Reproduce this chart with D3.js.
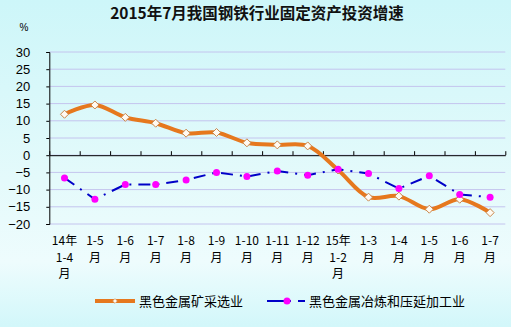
<!DOCTYPE html>
<html><head><meta charset="utf-8">
<script src="https://cdn.jsdelivr.net/npm/d3@7"></script>
<style>html,body{margin:0;padding:0;overflow:hidden;}</style>
</head><body>
<svg id="c" width="511" height="327"></svg>
<script>
const title = "2015年7月我国钢铁行业固定资产投资增速";
const categories = ["14年 1-4 月","1-5 月","1-6 月","1-7 月","1-8 月","1-9 月","1-10 月","1-11 月","1-12 月","15年 1-2 月","1-3 月","1-4 月","1-5 月","1-6 月","1-7 月"];
const seriesNames = ["黑色金属矿采选业","黑色金属冶炼和压延加工业"];
const miningValues = [11.9, 14.6, 11.0, 9.3, 6.4, 6.6, 3.6, 3.0, 2.7, -4.3, -12.2, -11.9, -15.7, -12.8, -16.7];
const smeltingValues = [-6.6, -12.8, -8.5, -8.5, -7.2, -5.0, -6.2, -4.6, -5.8, -4.1, -5.3, -9.7, -6.0, -11.4, -12.2];
const yTicks = [-20,-15,-10,-5,0,5,10,15,20,25,30];

const svg = d3.select("#c");
const defs = svg.append("defs");
const bg = defs.append("linearGradient").attr("id","bg").attr("x1","0").attr("y1","0").attr("x2","0").attr("y2","1");
bg.append("stop").attr("offset","0").attr("stop-color","#cdf6f9");
bg.append("stop").attr("offset","0.55").attr("stop-color","#e4fafb");
bg.append("stop").attr("offset","0.8").attr("stop-color","#eefcfd");
bg.append("stop").attr("offset","1").attr("stop-color","#d2f7fa");
svg.append("rect").attr("width",511).attr("height",327).attr("fill","url(#bg)");

const pLeft = 49.3, pRight = 505.3, pTop = 52, pBottom = 224;
const idx = d3.range(categories.length);
const x = d3.scaleBand().domain(idx).range([pLeft,pRight]).padding(0);
const y = d3.scaleLinear().domain([-20,30]).range([pBottom,pTop]);
const cx = i => x(i) + x.bandwidth()/2;

// gridlines
svg.append("g").selectAll("line").data(yTicks).join("line")
  .attr("x1",pLeft).attr("x2",pRight).attr("y1",d=>y(d)).attr("y2",d=>y(d))
  .attr("stroke","#c4c4ee").attr("stroke-width",1);

// y axis
const yAxis = svg.append("g").attr("transform",`translate(${pLeft},0)`)
  .call(d3.axisLeft(y).tickValues(yTicks).tickSize(3).tickPadding(16).tickFormat(d3.format("d")));
yAxis.select(".domain").attr("stroke","#000");
yAxis.selectAll("text").attr("font-family","'Liberation Sans',Arial,sans-serif").attr("font-size",13).attr("fill","#000");

// x axis at zero
const xb = d3.scaleLinear().domain([0,categories.length]).range([pLeft,pRight]);
const xAxis = svg.append("g").attr("transform",`translate(0,${y(0)})`)
  .call(d3.axisTop(xb).tickValues(d3.range(0,categories.length+1)).tickSize(4).tickSizeOuter(0).tickFormat(""));
xAxis.select(".domain").attr("stroke","#000");
xAxis.selectAll("line").attr("stroke","#000");

// category labels
const lab = svg.append("g").attr("font-family","'Noto Sans CJK SC',sans-serif").attr("font-size",12).attr("fill","#000").attr("text-anchor","middle");
categories.forEach((c,i) => {
  const t = lab.append("text").attr("x",cx(i)).attr("y",245);
  c.split(" ").forEach((s,k) => t.append("tspan").attr("x",cx(i)).attr("dy", k===0?0:16.5).text(s));
});

// title
svg.append("text").attr("x",257).attr("y",19).attr("text-anchor","middle")
  .attr("font-family","'Noto Sans CJK SC',sans-serif").attr("font-weight","bold").attr("font-size",15.5)
  .attr("fill","#111").text(title);
svg.append("text").attr("x",24).attr("y",31).attr("text-anchor","middle")
  .attr("font-family","'Liberation Sans',sans-serif").attr("font-size",10).text("%");

const orange = "#e6781e", blue = "#0000c8", magenta = "#ff00ff";
const diamond = "M0,-4L4,0L0,4L-4,0Z";

// mining line (smoothed)
const lineSmooth = d3.line().x((d,i)=>cx(i)).y(d=>y(d)).curve(d3.curveCatmullRom.alpha(0.5));
svg.append("path").datum(miningValues).attr("d",lineSmooth).attr("fill","none")
  .attr("stroke",orange).attr("stroke-width",4).attr("stroke-linejoin","round");
svg.append("g").selectAll("path").data(miningValues).join("path")
  .attr("d",diamond).attr("transform",(d,i)=>`translate(${cx(i)},${y(d)})`)
  .attr("fill","#fffaf2").attr("stroke","#c9864a").attr("stroke-width",1);

// smelting line
const lineStraight = d3.line().x((d,i)=>cx(i)).y(d=>y(d));
svg.append("path").datum(smeltingValues).attr("d",lineStraight).attr("fill","none")
  .attr("stroke",blue).attr("stroke-width",2).attr("stroke-dasharray","12,7,2,7");
svg.append("g").selectAll("circle").data(smeltingValues).join("circle")
  .attr("cx",(d,i)=>cx(i)).attr("cy",d=>y(d)).attr("r",3.5).attr("fill",magenta);

// legend
const lg = svg.append("g");
lg.append("line").attr("x1",95).attr("x2",135).attr("y1",301).attr("y2",301).attr("stroke",orange).attr("stroke-width",4);
lg.append("path").attr("d",diamond).attr("transform","translate(115,301) scale(0.6)").attr("fill","#fffaf2").attr("stroke","#c9864a");
lg.append("text").attr("x",139).attr("y",306).attr("font-family","'Noto Sans CJK SC',sans-serif").attr("font-size",13).text(seriesNames[0]);
lg.append("line").attr("x1",267).attr("x2",305).attr("y1",301).attr("y2",301).attr("stroke",blue).attr("stroke-width",2).attr("stroke-dasharray","24,7,7");
lg.append("circle").attr("cx",287).attr("cy",301).attr("r",3.5).attr("fill",magenta);
lg.append("text").attr("x",309).attr("y",306).attr("font-family","'Noto Sans CJK SC',sans-serif").attr("font-size",13).text(seriesNames[1]);
</script>
</body></html>
